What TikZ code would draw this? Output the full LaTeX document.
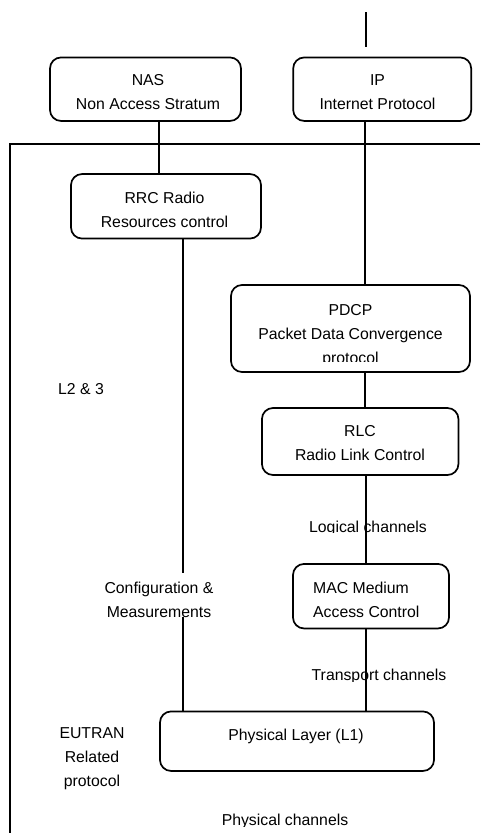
\documentclass[tikz,border=0pt]{standalone}
\usepackage{fontspec}
\setmainfont{Liberation Sans}
\begin{document}
\begin{tikzpicture}[x=1pt, y=-1pt,
  box/.style={draw, line width=1.7pt, rounded corners=11pt, inner sep=0pt},
  txt/.style={inner sep=0pt, anchor=base, align=center, font=\fontsize{15.8}{24}\selectfont},
  wire/.style={line width=1.7pt}]
\useasboundingbox (0,0) rectangle (480,833);

% protocol boxes
\node[box, minimum width=191pt, minimum height=63.5pt] (nas)  at (145.5,89.2) {};
\node[box, minimum width=178pt, minimum height=63.5pt] (ip)   at (382.2,89.2) {};
\node[box, minimum width=190pt, minimum height=64.5pt] (rrc)  at (166,206.3) {};
\node[box, minimum width=239pt, minimum height=87pt]   (pdcp) at (350.5,328.5) {};
\node[box, minimum width=196.5pt, minimum height=67pt] (rlc)  at (360.2,441.5) {};
\node[box, minimum width=156pt, minimum height=64.5pt] (mac)  at (371,596.2) {};
\node[box, minimum width=274pt, minimum height=59.5pt] (phy)  at (297,741.2) {};

% box texts (multi-line nodes sit on the baseline of their last line)
\node[txt] (nastext) at (148,109) {NAS\\Non Access Stratum};
\node[txt] (iptext)  at (377.5,109) {IP\\Internet Protocol};
\node[txt] (rrctext) at (164.5,227) {RRC Radio\\Resources control};
\begin{scope}
  \clip (0,0) rectangle (480,361.7);
  \node[txt] (pdcptext) at (350.5,363) {PDCP\\Packet Data Convergence\\protocol};
\end{scope}
\node[txt] (rlctext) at (360,460.5) {RLC\\Radio Link Control};
\node[txt, align=left, anchor=base west] (mactext) at (313,617.3) {MAC Medium\\Access Control};
\node[txt] (phytext) at (296,740) {Physical Layer (L1)};

% frame around the L2/L3 and L1 stack
\coordinate (frameright) at (480,144);
\coordinate (framecorner) at (9.8,144);
\coordinate (framebottom) at (9.8,833);
\draw[wire] (frameright) -- (framecorner) -- (framebottom);

% side labels
\node[txt] (l23) at (81,394.3) {L2 \& 3};
\node[txt] (cfg) at (159,617.3) {Configuration \&\\Measurements};
\node[txt] (eutran) at (92,786.3) {EUTRAN\\Related\\protocol};

% connectors
\coordinate (inettop) at (365.7,12);
\coordinate (inetbot) at (365.7,47);
\draw[wire] (inettop) -- (inetbot);

\coordinate (nasx) at (158.7,0);
\draw[wire] (nas.south -| nasx) -- (rrc.north -| nasx);

\coordinate (ipx) at (365.3,0);
\draw[wire] (ip.south -| ipx) -- (pdcp.north -| ipx);
\draw[wire] (pdcp.south -| ipx) -- (rlc.north -| ipx);

\coordinate (chx) at (366,0);
\draw[wire] (rlc.south -| chx) -- (mac.north -| chx);
\draw[wire] (mac.south -| chx) -- (phy.north -| chx);

\coordinate (cfgtop) at (183,572.7);
\coordinate (cfgbot) at (183,617.3);
\draw[wire] (rrc.south -| cfgtop) -- (cfgtop);
\draw[wire] (cfgbot) -- (phy.north -| cfgbot);

% channel labels drawn over the links
\begin{scope}
  \clip (0,0) rectangle (480,532.7);
  \node[txt] (logch) at (368,532) {Logical channels};
\end{scope}
\begin{scope}
  \clip (0,0) rectangle (480,681.5);
  \node[txt] (trch) at (379,680.7) {Transport channels};
\end{scope}
\begin{scope}
  \clip (0,0) rectangle (480,826);
  \node[txt] (phych) at (285,825) {Physical channels};
\end{scope}
\end{tikzpicture}
\end{document}
